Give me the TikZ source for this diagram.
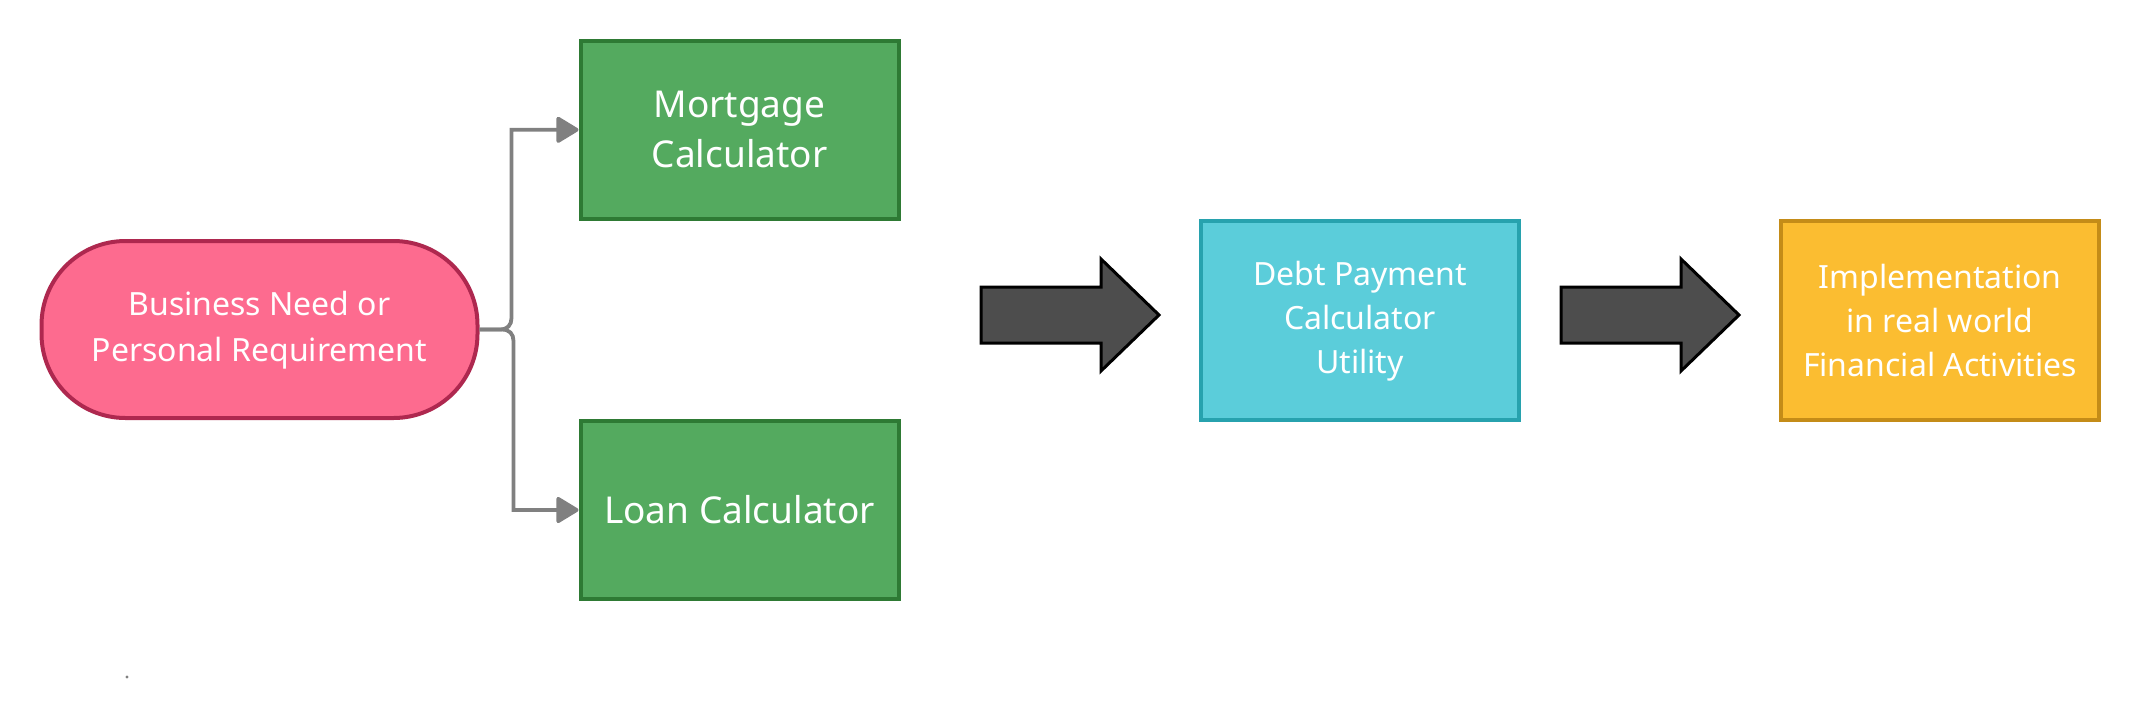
\documentclass[tikz,border=0pt]{standalone}
\usepackage{fontspec}
\setmainfont{Noto Sans}
\usetikzlibrary{arrows.meta}
\definecolor{pinkfill}{HTML}{FD6B8F}
\definecolor{pinkline}{HTML}{AE284F}
\definecolor{greenfill}{HTML}{54AA5F}
\definecolor{greenline}{HTML}{2E7A34}
\definecolor{cyanfill}{HTML}{5BCDDA}
\definecolor{cyanline}{HTML}{27A2AE}
\definecolor{orangefill}{HTML}{FBBD31}
\definecolor{orangeline}{HTML}{C48C18}
\definecolor{conngray}{HTML}{808080}
\definecolor{arrowgray}{HTML}{4D4D4D}
\begin{document}
\begin{tikzpicture}[x=0.5pt,y=-0.5pt,
  box/.style={draw, line width=2pt, inner sep=0pt, align=center, text=white},
  greenbox/.style={box, fill=greenfill, draw=greenline, minimum width=159pt, minimum height=88.85pt, font=\fontsize{18.5}{25}\selectfont},
  stepbox/.style={box, minimum width=158.85pt, minimum height=99.35pt, font=\fontsize{16}{22}\selectfont},
  conn/.style={draw=conngray, line width=1.9pt, line join=miter, -{Triangle[length=12pt,width=14pt,round]}},
  bigarrow/.style={draw=black, fill=arrowgray, line width=1.5pt, line join=miter}]
\useasboundingbox (0,0) rectangle (2140,718);
\fill[white] (0,0) rectangle (2140,718);

\node[box, fill=pinkfill, draw=pinkline, rounded corners=42pt, minimum width=218pt, minimum height=88.5pt, font=\fontsize{16}{22.5}\selectfont] (pink) at (259.5,329.5) {\raisebox{-2pt}{\begin{tabular}{@{}c@{}}Business Need or\\[0.5pt]Personal Requirement\end{tabular}}};
\node[greenbox] (mort) at (739.5,129.8) {Mortgage\\Calculator};
\node[greenbox] (loan) at (739.5,510) {Loan Calculator};
\node[stepbox, fill=cyanfill, draw=cyanline] (debt) at (1360,320.7) {Debt Payment\\Calculator\\ Utility};
\node[stepbox, fill=orangefill, draw=orangeline] (impl) at (1940,320.7) {Implementation\\in real world\\Financial Activities};

\coordinate (ua) at (500,329.5);
\coordinate (ub) at (511.5,318);
\coordinate (la) at (502,329.5);
\coordinate (lb) at (513.5,341);
\draw[conn] (pink.east) -- (ua) .. controls (507.5,329.5) and (511.5,325) .. (ub) -- (ub |- mort.west) -- (mort.west);
\draw[conn] (pink.east) -- (la) .. controls (509.5,329.5) and (513.5,334) .. (lb) -- (lb |- loan.west) -- (loan.west);

\draw[bigarrow] (981,287) -- (1101,287) -- (1101,259) -- (1159,315) -- (1101,371) -- (1101,343) -- (981,343) -- cycle;
\draw[bigarrow] (1561,287) -- (1681,287) -- (1681,259) -- (1739,315) -- (1681,371) -- (1681,343) -- (1561,343) -- cycle;

\node[circle, fill=conngray, inner sep=0pt, minimum size=1.6pt] (dot) at (127,677) {};
\end{tikzpicture}
\end{document}
